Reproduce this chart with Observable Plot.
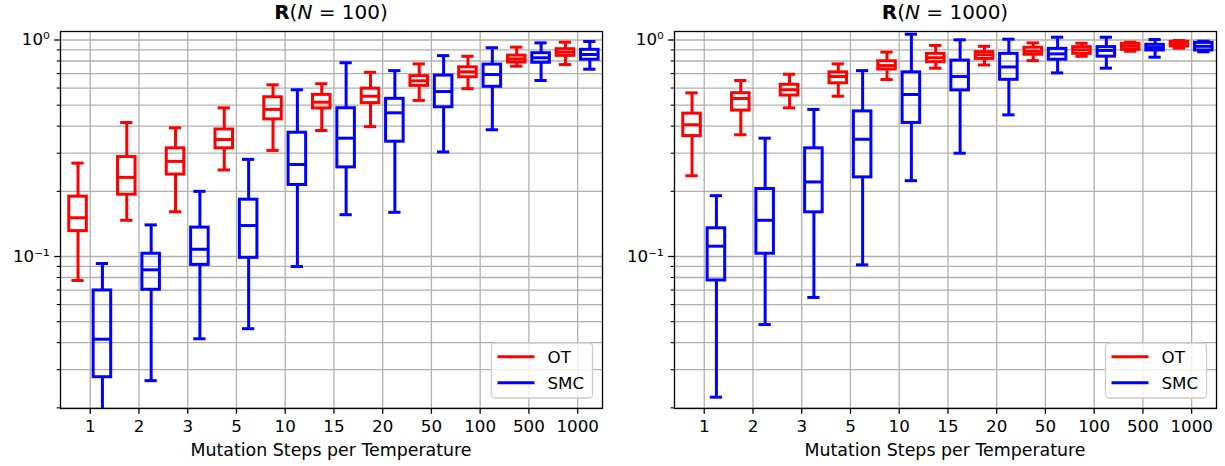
<!DOCTYPE html>
<html><head><meta charset="utf-8">
<script src="https://cdn.jsdelivr.net/npm/d3@7"></script>
<script src="https://cdn.jsdelivr.net/npm/@observablehq/plot@0.6"></script>
<style>
body{margin:0;background:#fff;}
#wrap{display:flex;width:1225px;height:466px;}
</style></head><body><div id="wrap"></div>
<script>
const categories = ["1","2","3","5","10","15","20","50","100","500","1000"];
const seriesNames = ["OT","SMC"];
const seriesColors = ["#ff0000","#0000ff"];
// per category: [whiskerLow, q1, median, q3, whiskerHigh]
const otN100 = [
  [0.0775,0.131,0.151,0.189,0.270],[0.147,0.193,0.232,0.288,0.416],[0.161,0.239,0.275,0.316,0.393],
  [0.251,0.316,0.347,0.386,0.486],[0.309,0.430,0.478,0.544,0.621],[0.382,0.483,0.516,0.558,0.628],
  [0.398,0.511,0.550,0.596,0.709],[0.526,0.614,0.648,0.681,0.776],[0.596,0.673,0.713,0.748,0.841],
  [0.757,0.787,0.818,0.847,0.927],[0.770,0.845,0.879,0.907,0.977]];
const smcN100 = [
  [0.015,0.0277,0.0415,0.0697,0.0928],[0.0267,0.0702,0.0868,0.103,0.140],[0.0417,0.0915,0.108,0.136,0.200],
  [0.0464,0.0986,0.139,0.183,0.281],[0.0899,0.214,0.266,0.373,0.589],[0.156,0.258,0.352,0.484,0.785],
  [0.160,0.339,0.461,0.535,0.722],[0.304,0.489,0.578,0.685,0.847],[0.385,0.608,0.693,0.770,0.921],
  [0.650,0.785,0.828,0.869,0.970],[0.733,0.811,0.857,0.901,0.984]];
const otN1000 = [
  [0.236,0.360,0.406,0.457,0.570],[0.365,0.472,0.537,0.568,0.650],[0.486,0.554,0.589,0.621,0.695],
  [0.550,0.631,0.678,0.709,0.776],[0.657,0.731,0.762,0.798,0.879],[0.741,0.790,0.828,0.863,0.944],
  [0.767,0.818,0.855,0.879,0.935],[0.803,0.855,0.887,0.921,0.970],[0.841,0.863,0.901,0.927,0.966],
  [0.887,0.901,0.935,0.960,0.977],[0.917,0.934,0.960,0.981,0.995]];
const smcN1000 = [
  [0.0224,0.0775,0.1116,0.135,0.191],[0.0485,0.103,0.147,0.205,0.352],[0.0647,0.160,0.221,0.316,0.478],
  [0.0915,0.232,0.348,0.468,0.722],[0.224,0.414,0.560,0.709,1.064],[0.300,0.585,0.678,0.803,1.002],
  [0.451,0.655,0.751,0.863,1.009],[0.705,0.811,0.863,0.910,1.030],[0.741,0.838,0.895,0.927,1.030],
  [0.833,0.895,0.923,0.950,1.005],[0.882,0.895,0.935,0.970,0.988]];
const yMajorTicks = [0.1, 1];
const yMajorLabels = ["10\u207B\u00B9", "10\u2070"];
const yMinorTicks = [0.02,0.03,0.04,0.05,0.06,0.07,0.08,0.09,0.2,0.3,0.4,0.5,0.6,0.7,0.8,0.9];
const panelTitles = ["100", "1000"];
const xLabel = "Mutation Steps per Temperature";

const LW = 3, HALF = 0.18, CAP = 0.095, OFF = 0.25;
const positions = categories.map((c, i) => i + 1);

function rows(arr, s) {
  return arr.map((v, i) => ({pos: i + 1 + (s === 0 ? -OFF : OFF), lo: v[0], q1: v[1], med: v[2], q3: v[3], hi: v[4]}));
}

function seriesMarks(data, color) {
  return [
    Plot.ruleX(data, {x: "pos", y1: "lo", y2: "q1", stroke: color, strokeWidth: LW, clip: true}),
    Plot.ruleX(data, {x: "pos", y1: "q3", y2: "hi", stroke: color, strokeWidth: LW, clip: true}),
    Plot.rect(data, {x1: d => d.pos - HALF, x2: d => d.pos + HALF, y1: "q1", y2: "q3", stroke: color, fill: "none", strokeWidth: LW, clip: true}),
    Plot.ruleY(data, {y: "med", x1: d => d.pos - HALF, x2: d => d.pos + HALF, stroke: color, strokeWidth: LW, clip: true}),
    Plot.ruleY(data, {y: "lo", x1: d => d.pos - CAP, x2: d => d.pos + CAP, stroke: color, strokeWidth: LW, strokeLinecap: "square", clip: true}),
    Plot.ruleY(data, {y: "hi", x1: d => d.pos - CAP, x2: d => d.pos + CAP, stroke: color, strokeWidth: LW, strokeLinecap: "square", clip: true})
  ];
}

function panel(ot, smc, titleN, width, ml, mr) {
  const mt = 31, mb = 58, height = 466;
  const svg = Plot.plot({
    width, height, marginLeft: ml, marginRight: mr, marginTop: mt, marginBottom: mb,
    style: {fontFamily: "DejaVu Sans", fontSize: "16.7px", color: "#000", background: "#fff", overflow: "visible"},
    x: {type: "linear", domain: [0.39, 11.51]},
    y: {type: "log", domain: [0.01986, 1.0947]},
    marks: [
      Plot.gridY({ticks: yMinorTicks.concat(yMajorTicks), stroke: "#b0b0b0", strokeOpacity: 1, strokeWidth: 1.3}),
      Plot.gridX({ticks: positions, stroke: "#b0b0b0", strokeOpacity: 1, strokeWidth: 1.3}),
      ...seriesMarks(rows(ot, 0), seriesColors[0]),
      ...seriesMarks(rows(smc, 1), seriesColors[1]),
      Plot.frame({stroke: "#000", strokeWidth: 1.3}),
      Plot.axisX({ticks: positions, tickFormat: d => categories[Math.round(d) - 1], tickSize: 5.8, tickPadding: 5.8, label: null, strokeWidth: 1.3}),
      Plot.axisY({ticks: yMajorTicks, tickFormat: d => yMajorLabels[yMajorTicks.indexOf(d)], tickSize: 5.8, tickPadding: 5, label: null, strokeWidth: 1.3}),
      Plot.axisY({ticks: yMinorTicks, tickFormat: () => "", tickSize: 3.3, label: null, strokeWidth: 1.1})
    ]
  });
  const s = d3.select(svg);
  const cx = ml + (width - ml - mr) / 2;
  // title
  const t = s.append("text").attr("x", cx).attr("y", 18.5).attr("text-anchor", "middle")
    .attr("font-size", 20).attr("font-family", "DejaVu Sans").attr("fill", "#000");
  t.append("tspan").attr("font-weight", "bold").text("R");
  t.append("tspan").text("(");
  t.append("tspan").attr("font-style", "italic").text("N");
  t.append("tspan").text(" = " + titleN + ")");
  // x label
  s.append("text").attr("x", cx).attr("y", 455.5).attr("text-anchor", "middle")
    .attr("font-size", 17.4).attr("font-family", "DejaVu Sans").attr("fill", "#000").text(xLabel);
  // legend
  const right = width - mr - 9.5, bottom = height - mb - 10;
  const lw = 101, lh = 55;
  const g = s.append("g").attr("transform", `translate(${right - lw},${bottom - lh})`);
  g.append("rect").attr("width", lw).attr("height", lh).attr("rx", 3.5)
    .attr("fill", "#fff").attr("fill-opacity", 0.8).attr("stroke", "#cccccc").attr("stroke-width", 1.3);
  seriesNames.forEach((n, i) => {
    const yy = 13.7 + i * 26;
    g.append("line").attr("x1", 6).attr("x2", 43).attr("y1", yy).attr("y2", yy)
      .attr("stroke", seriesColors[i]).attr("stroke-width", LW);
    g.append("text").attr("x", 56).attr("y", yy).attr("dy", "0.36em").attr("font-size", 16.7)
      .attr("text-anchor", "start")
      .attr("font-family", "DejaVu Sans").attr("fill", "#000").text(n);
  });
  return svg;
}

const wrap = document.getElementById("wrap");
wrap.appendChild(panel(otN100, smcN100, panelTitles[0], 612, 60, 10));
wrap.appendChild(panel(otN1000, smcN1000, panelTitles[1], 613, 62, 9));
</script></body></html>
